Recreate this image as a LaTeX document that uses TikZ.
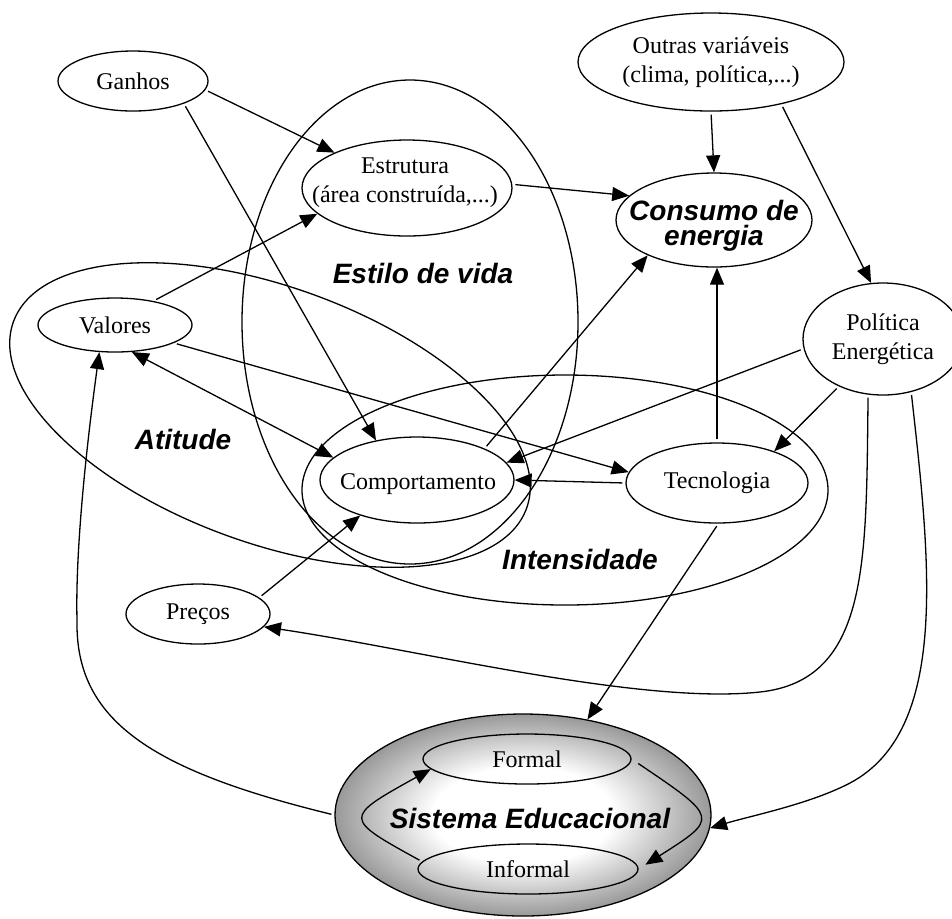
\documentclass[tikz,border=0pt]{standalone}
\usepackage{fontspec}
\setmainfont{Liberation Serif}
\newfontfamily\labelfont{Liberation Sans}
\usetikzlibrary{shapes.geometric,arrows.meta}
\pgfdeclareradialshading{edushade}{\pgfpoint{0bp}{0bp}}{color(0bp)=(white); color(12bp)=(white); color(25bp)=(black!40); color(50bp)=(black!40)}
\begin{document}
\begin{tikzpicture}[x=0.5pt,y=-0.5pt, line width=0.65pt,
  nd/.style={draw, ellipse, inner sep=0pt},
  txt/.style={inner sep=0pt, align=center, font=\fontsize{12}{14.5}\selectfont},
  lbl/.style={inner sep=0pt, align=center, font=\labelfont\bfseries\itshape\fontsize{14}{12.5}\selectfont},
  tipa/.style={-{Triangle[length=8.5pt,width=7pt]}},
  conn/.style={tipa, shorten <=1.5pt},
  region/.style={draw}]
\useasboundingbox (0,0) rectangle (952,918);
\clip (0,0) rectangle (952,918);

% large regions
\draw[region] (410,322) ellipse [x radius=84pt, y radius=121pt];
\draw[region, rotate around={-20:(270,415)}] (270,415) ellipse [x radius=136.5pt, y radius=64pt];
\draw[region] (565,490) ellipse [x radius=131.5pt, y radius=57.5pt];

% educational system
\node[nd, shade, shading=edushade, minimum width=188pt, minimum height=101pt] (sis) at (523,815) {};
\node[lbl] (sislbl) at (530,818) {Sistema Educacional};
\node[nd, minimum width=104pt, minimum height=25pt] (form) at (527,759) {};
\node[txt] (formlbl) at (form) {Formal};
\node[nd, minimum width=110pt, minimum height=25pt] (inf) at (528,869) {};
\node[txt] (inflbl) at (inf) {Informal};

% nodes
\node[nd, minimum width=75pt, minimum height=30pt] (ganhos) at (133,81) {};
\node[txt] (ganhoslbl) at (ganhos) {Ganhos};
\node[nd, minimum width=105pt, minimum height=48pt] (estr) at (407,188) {};
\node[txt] (estrlbl) at (405,183) {Estrutura\\(área construída,...)};
\node[nd, minimum width=133pt, minimum height=49pt] (outras) at (711,62) {};
\node[txt] (outraslbl) at (outras) {Outras variáveis\\(clima, política,...)};
\node[nd, minimum width=98pt, minimum height=47pt] (cons) at (714,220) {};
\node[lbl] (conslbl) at (714,226) {Consumo de\\energia};
\node[nd, minimum width=77pt, minimum height=27pt] (val) at (115,325) {};
\node[txt] (vallbl) at (val) {Valores};
\node[nd, minimum width=97pt, minimum height=43pt] (comp) at (417,480) {};
\node[txt] (complbl) at (418,484) {Comportamento};
\node[nd, minimum width=91pt, minimum height=40pt] (tec) at (717,483) {};
\node[txt] (teclbl) at (tec) {Tecnologia};
\node[nd, minimum width=80pt, minimum height=56pt] (pol) at (883,339) {};
\node[txt] (pollbl) at (pol) {Política\\Energética};
\node[nd, minimum width=72pt, minimum height=30pt] (pre) at (198,614) {};
\node[txt] (prelbl) at (pre) {Preços};

% region labels
\node[lbl] (estilo) at (423,273) {Estilo de vida};
\node[lbl] (atitude) at (183,439) {Atitude};
\node[lbl] (intens) at (580,559) {Intensidade};

% connectors
\draw[conn] (ganhos.-7) -- (estr.154);
\draw[conn] (ganhos.-24) -- (comp.136);
\draw[conn] (val.32) -- (estr.196);
\draw[conn] (estr.2) -- (cons.164);
\draw[conn] (outras.south) -- (cons.north);
\draw[conn] (outras.-31) -- (pol.102);
\draw[{Triangle[length=8.5pt,width=7pt]}-{Triangle[length=8.5pt,width=7pt]}] (val.-58) -- (comp.165);
\draw[conn] (val.-17) -- (tec.173);
\draw[conn] (comp.25) -- (cons.208);
\draw[conn] (tec.north) -- (tec.north |- cons.south);
\draw[conn] (pol.187) -- (comp.11);
\draw[conn] (pol.227) -- (tec.29);
\draw[conn] (tec.west) -- (comp.east);
\draw[conn] (pre.15) -- (comp.212);
\draw[conn] (tec.-88) -- (sis.56);
\draw[conn] (pol.255) .. controls (866,560) and (870,680) .. (760,692) .. controls (640,705) and (420,650) .. (pre.-11);
\draw[conn] (pol.-62) .. controls (930,560) and (950,730) .. (850,783) .. controls (810,804) and (750,816) .. (sis.-4);
\draw[conn] (sis.west) .. controls (150,770) and (75,720) .. (77,620) .. controls (75,540) and (90,420) .. (val.240);
\draw[conn, shorten <=4pt, shorten >=4pt] (form.east) .. controls (719,818) .. (inf.east);
\draw[conn] (inf.176) .. controls (343,818) .. (form.186);
\end{tikzpicture}
\end{document}
